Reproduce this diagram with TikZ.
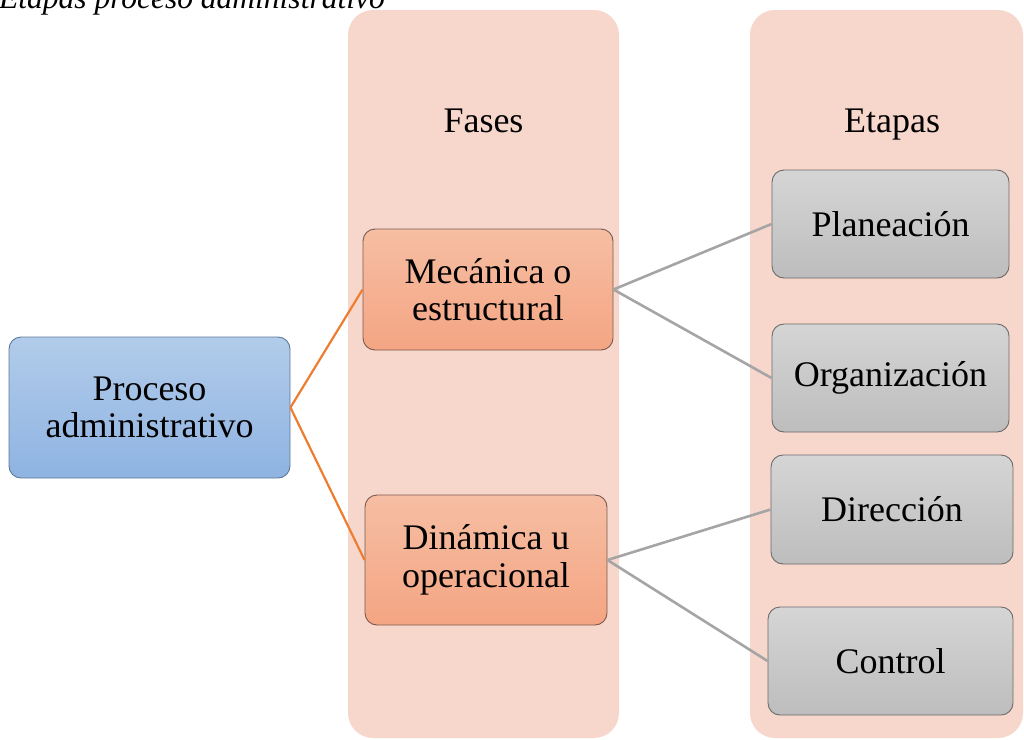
\documentclass[tikz,border=0pt]{standalone}
\usepackage{fontspec}
\setmainfont{Liberation Serif}
\definecolor{panel}{HTML}{F7D7CC}
\definecolor{bluetop}{HTML}{B2CCEA}
\definecolor{bluebot}{HTML}{8EB3E2}
\definecolor{blueline}{HTML}{5E7898}
\definecolor{saltop}{HTML}{F6BEA3}
\definecolor{salbot}{HTML}{F4A583}
\definecolor{salline}{HTML}{7A5A4E}
\definecolor{graytop}{HTML}{D5D5D5}
\definecolor{graybot}{HTML}{BDBDBD}
\definecolor{grayline}{HTML}{6A6A6A}
\definecolor{orangeconn}{HTML}{ED7D31}
\definecolor{grayconn}{HTML}{A5A5A5}
\tikzset{
  boxbase/.style={rounded corners=12pt, inner sep=0pt, align=center, line width=0.9pt,
    font=\fontsize{36}{37.5}\selectfont},
  bluebox/.style={boxbase, draw=blueline, top color=bluetop, bottom color=bluebot},
  salbox/.style={boxbase, draw=salline, top color=saltop, bottom color=salbot},
  graybox/.style={boxbase, draw=grayline, top color=graytop, bottom color=graybot},
  orangelink/.style={draw=orangeconn, line width=2.2pt},
  graylink/.style={draw=grayconn, line width=2.6pt},
  paneltitle/.style={anchor=base, font=\fontsize{36}{37.5}\selectfont, inner sep=0pt}
}
\begin{document}
\begin{tikzpicture}[x=1pt,y=-1pt]
\useasboundingbox (0,0) rectangle (1024,739);
\clip (0,0) rectangle (1024,739);
% title (cut off at top)
\node[anchor=base west, inner sep=0pt, font=\fontsize{31.5}{33}\selectfont\itshape] (title) at (-1,8) {Etapas proceso administrativo};
% panels
\fill[panel, rounded corners=25pt] (348,10) rectangle (619,738);
\fill[panel, rounded corners=25pt] (750,10) rectangle (1023,738);
\node[paneltitle] (fases) at (483.5,132) {Fases};
\node[paneltitle] (etapas) at (892,132) {Etapas};
% nodes
\node[bluebox, minimum width=281pt, minimum height=141pt] (proc) at (149.5,407.5) {Proceso\\administrativo};
\node[salbox, minimum width=250pt, minimum height=121pt] (mec) at (488,289.5) {Mecánica o\\estructural};
\node[salbox, minimum width=242pt, minimum height=130pt] (din) at (486,560) {Dinámica u\\operacional};
\node[graybox, minimum width=237pt, minimum height=108pt] (plan) at (890.5,224) {Planeación};
\node[graybox, minimum width=237pt, minimum height=108pt] (org) at (890.5,378) {Organización};
\node[graybox, minimum width=242pt, minimum height=109pt] (dir) at (892,509.5) {Dirección};
\node[graybox, minimum width=245pt, minimum height=108pt] (ctrl) at (890.5,661) {Control};
% connectors
\draw[orangelink] (proc.east) -- (mec.west);
\draw[orangelink] (proc.east) -- (din.west);
\draw[graylink] (mec.east) -- (plan.west);
\draw[graylink] (mec.east) -- (org.west);
\draw[graylink] (din.east) -- (dir.west);
\draw[graylink] (din.east) -- (ctrl.west);
\end{tikzpicture}
\end{document}
